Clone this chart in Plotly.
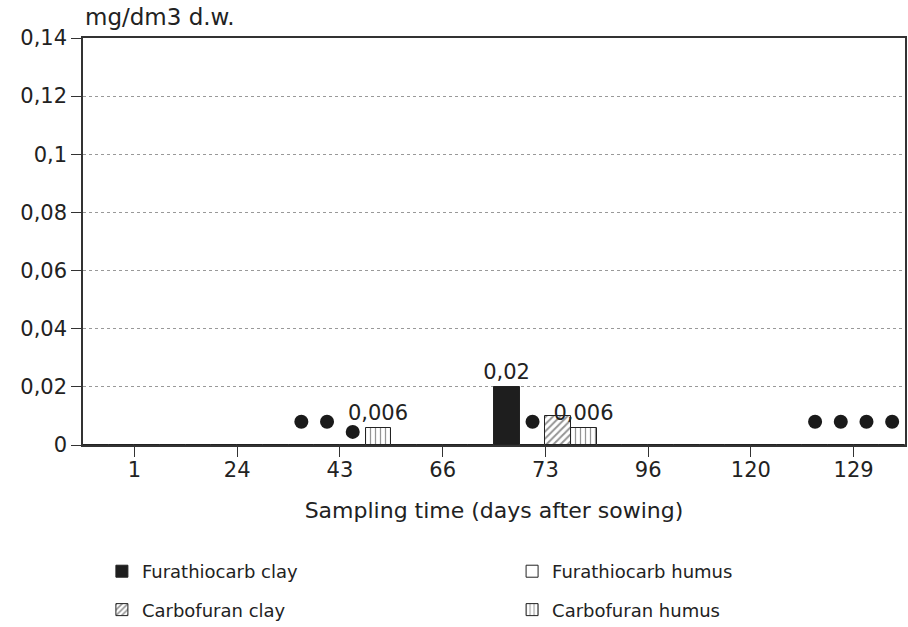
import plotly.graph_objects as go

categories = ["1", "24", "43", "66", "73", "96", "120", "129"]
series_names = ["Furathiocarb clay", "Furathiocarb humus", "Carbofuran clay", "Carbofuran humus"]

# measured concentrations (mg/dm3 d.w.)
fur_clay = [0, 0, 0, 0, 0.02, 0, 0, 0]
fur_humus = [0, 0, 0, 0, 0, 0, 0, 0]
carb_clay = [0, 0, 0, 0, 0.01, 0, 0, 0]
carb_humus = [0, 0, 0.006, 0, 0.006, 0, 0, 0]

# value labels shown above bars
fur_clay_lbl = ["", "", "", "", "0,02", "", "", ""]
fur_humus_lbl = ["", "", "", "", "", "", "", ""]
carb_clay_lbl = ["", "", "", "", "", "", "", ""]
carb_humus_lbl = ["", "", "0,006", "", "0,006", "", "", ""]

# trace (detected, not quantified) markers
fur_clay_dot = [None, None, 0.008, None, None, None, None, 0.008]
fur_humus_dot = [None, None, 0.008, None, 0.008, None, None, 0.008]
carb_clay_dot = [None, None, 0.0045, None, None, None, None, 0.008]
carb_humus_dot = [None, None, None, None, None, None, None, 0.008]

values = [fur_clay, fur_humus, carb_clay, carb_humus]
labels = [fur_clay_lbl, fur_humus_lbl, carb_clay_lbl, carb_humus_lbl]
dots = [fur_clay_dot, fur_humus_dot, carb_clay_dot, carb_humus_dot]

styles = [
    dict(color="#1e1e1e", pattern=dict(shape="")),
    dict(color="white", pattern=dict(shape="")),
    dict(color="white", pattern=dict(shape="/", fgcolor="#2a2a2a", bgcolor="white", size=5, solidity=0.4)),
    dict(color="white", pattern=dict(shape="|", fgcolor="#2a2a2a", bgcolor="white", size=5, solidity=0.25)),
]
legend_ids = ["legend", "legend2", "legend", "legend2"]

fig = go.Figure()
for i, name in enumerate(series_names):
    st = styles[i]
    fig.add_trace(go.Bar(
        x=categories, y=values[i], name=name,
        offsetgroup=f"g{i}", legend=legend_ids[i], legendgroup=f"lg{i}",
        marker=dict(color=st["color"], pattern=st["pattern"],
                    line=dict(color="#222222", width=1)),
        text=labels[i], textposition="outside", cliponaxis=False,
        constraintext="none",
        textfont=dict(family="DejaVu Sans", size=21, color="#222222"),
    ))
for i, name in enumerate(series_names):
    fig.add_trace(go.Scatter(
        x=categories, y=dots[i], mode="markers", offsetgroup=f"g{i}",
        showlegend=False, cliponaxis=False,
        marker=dict(symbol="circle", size=14, color="#1a1a1a"),
    ))

fig.update_layout(
    width=908, height=627,
    margin=dict(l=83, r=3, t=38, b=182, autoexpand=False),
    paper_bgcolor="white", plot_bgcolor="white",
    barmode="group", bargap=0, bargroupgap=0,
    scattermode="group", scattergap=0,
    separators=",.",
    showlegend=True,
    font=dict(family="DejaVu Sans", color="#222222"),
    legend=dict(x=0.023, y=0.118, xanchor="left", yanchor="top", yref="container",
                font=dict(size=18, color="#222222"), tracegroupgap=12,
                bgcolor="rgba(0,0,0,0)"),
    legend2=dict(x=0.522, y=0.118, xanchor="left", yanchor="top", yref="container",
                 font=dict(size=18, color="#222222"), tracegroupgap=12,
                 bgcolor="rgba(0,0,0,0)"),
    annotations=[
        dict(text="mg/dm3 d.w.", xref="paper", yref="paper", x=0, y=1.0,
             xanchor="left", yanchor="bottom", yshift=6, showarrow=False,
             font=dict(size=23, color="#222222")),
    ],
)
fig.update_xaxes(
    type="category", range=[-0.5, 7.5], automargin=False,
    showline=True, linecolor="#333333", linewidth=1.5, mirror=True,
    ticks="outside", ticklen=10, tickcolor="#333333",
    ticklabelstandoff=-5,
    tickfont=dict(size=21, color="#222222"),
    title=dict(text="Sampling time (days after sowing)", font=dict(size=22, color="#222222"), standoff=22),
    showgrid=False,
)
fig.update_yaxes(
    range=[0, 0.14], dtick=0.02, tick0=0, automargin=False,
    showline=True, linecolor="#333333", linewidth=1.5, mirror=True,
    ticks="outside", ticklen=10, tickcolor="#333333",
    tickfont=dict(size=21, color="#222222"),
    showgrid=True, gridcolor="#999999", griddash="dot", gridwidth=1,
    zeroline=False,
)

fig.write_html("out.html", config={"displayModeBar": False},
               post_script="document.body.style.margin='0';document.body.style.overflow='hidden';")
